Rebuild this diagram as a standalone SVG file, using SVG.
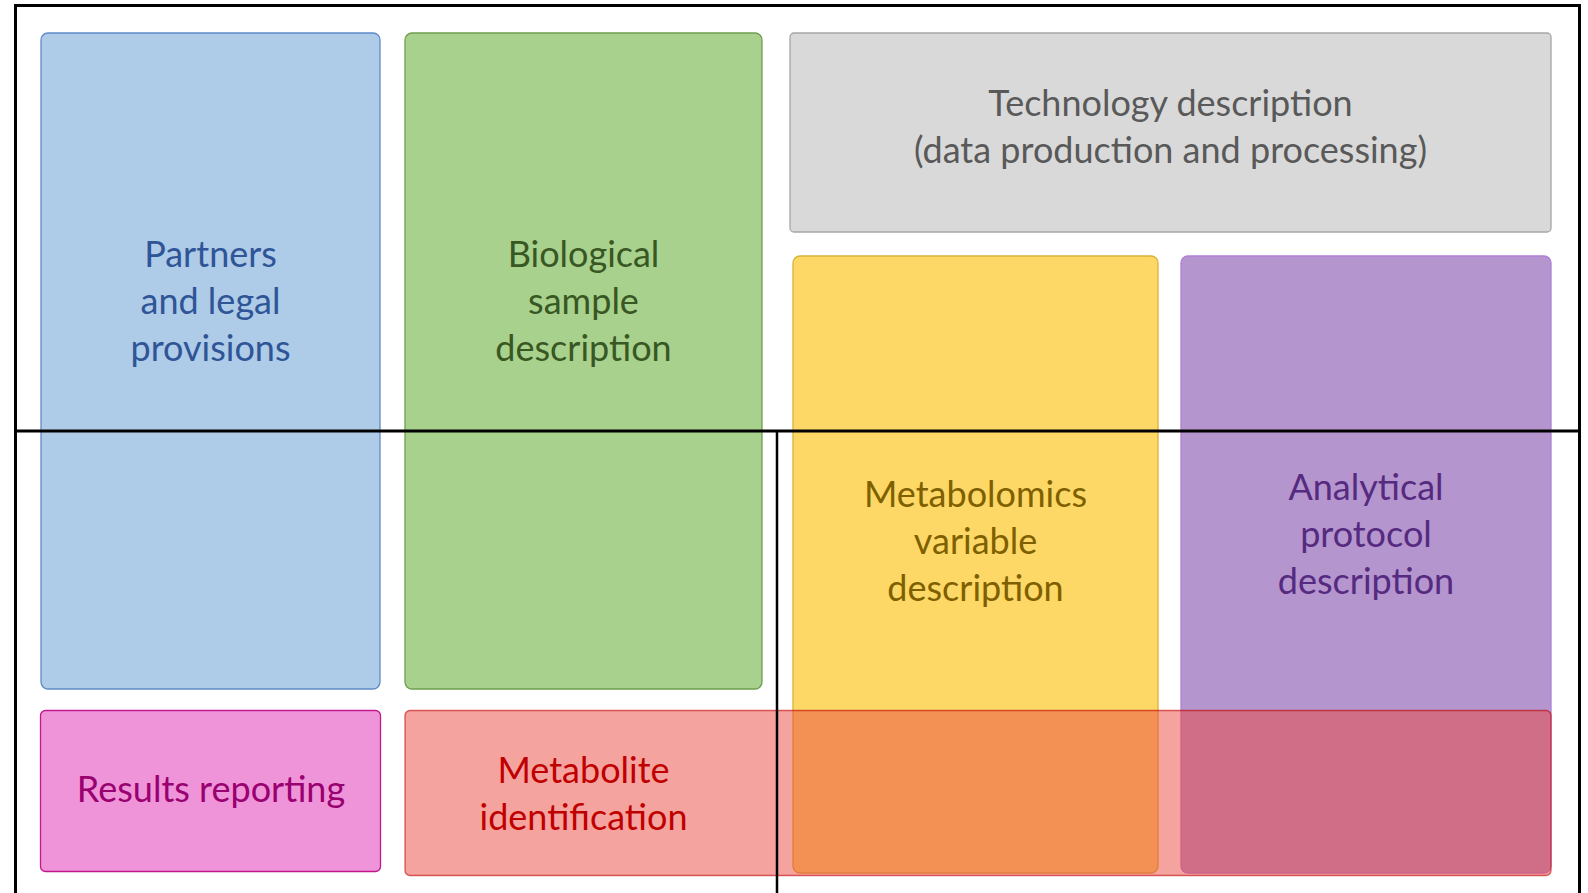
<svg xmlns="http://www.w3.org/2000/svg" width="1588" height="893" viewBox="0 0 1588 893">
<style>
  .lbl { font-family: Lato, "Open Sans", "Liberation Sans", sans-serif; font-size: 36px; text-anchor: middle; }
  .box { stroke-width: 1.3; }
  .frame { stroke: #000; stroke-width: 3; fill: none; }
</style>
<rect x="0" y="0" width="1588" height="893" fill="#fff"/>
<g id="node-partners">
  <rect class="box" x="41" y="33" width="339" height="656" rx="7" fill="#AECBE8" stroke="#5F8BC9"/>
  <text class="lbl" fill="#2F5597"><tspan x="210.5" y="267">Partners</tspan><tspan x="210.5" y="314">and legal</tspan><tspan x="210.5" y="361">provisions</tspan></text>
</g>
<g id="node-biological">
  <rect class="box" x="405" y="33" width="357" height="656" rx="7" fill="#A9D18E" stroke="#6E9E50"/>
  <text class="lbl" fill="#385723"><tspan x="583.5" y="267">Biological</tspan><tspan x="583.5" y="314">sample</tspan><tspan x="583.5" y="361">description</tspan></text>
</g>
<g id="node-technology">
  <rect class="box" x="790" y="33" width="761" height="199" rx="4" fill="#D9D9D9" stroke="#A6A6A6"/>
  <text class="lbl" fill="#595959"><tspan x="1170.5" y="116">Technology description</tspan><tspan x="1170.5" y="163">(data production and processing)</tspan></text>
</g>
<g id="node-metabolomics">
  <rect class="box" x="793" y="256" width="365" height="617" rx="7" fill="#FDD866" stroke="#D9B23A"/>
  <text class="lbl" fill="#7F6000"><tspan x="975.5" y="507">Metabolomics</tspan><tspan x="975.5" y="554">variable</tspan><tspan x="975.5" y="601">description</tspan></text>
</g>
<g id="node-analytical">
  <rect class="box" x="1181" y="256" width="370" height="617" rx="7" fill="#B495CD" stroke="#B07FD6"/>
  <text class="lbl" fill="#552A80"><tspan x="1366" y="500">Analytical</tspan><tspan x="1366" y="547">protocol</tspan><tspan x="1366" y="594">description</tspan></text>
</g>
<g id="node-results">
  <rect class="box" x="40.5" y="710.5" width="340" height="161" rx="5" fill="#EF94D8" stroke="#C2188E"/>
  <text class="lbl" fill="#990070" x="211" y="802">Results reporting</text>
</g>
<g id="node-metabolite">
  <rect class="box" x="405" y="710.5" width="1146" height="165" rx="5" fill="#E9473F" fill-opacity="0.5" stroke="#C00000" stroke-opacity="0.6"/>
  <text class="lbl" fill="#C00000"><tspan x="583.5" y="783">Metabolite</tspan><tspan x="583.5" y="830">identification</tspan></text>
</g>
<g id="connectors">
  <path class="frame" d="M15.5 893 V5.5 H1579.5 V893"/>
  <line x1="15" y1="431" x2="1579" y2="431" stroke="#000" stroke-width="3"/>
  <line x1="777" y1="431" x2="777" y2="893" stroke="#000" stroke-width="2.5"/>
</g>
</svg>
